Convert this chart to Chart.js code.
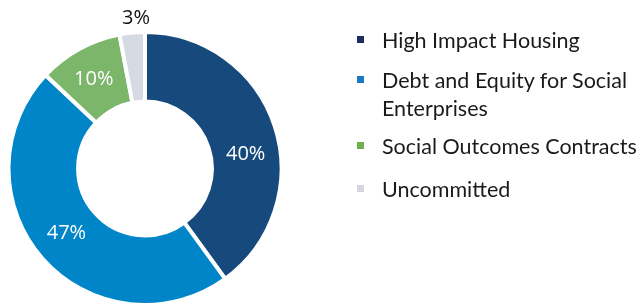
<!DOCTYPE html>
<html>
<head>
<meta charset="utf-8">
<script src="https://cdn.jsdelivr.net/npm/chart.js@4.4.0/dist/chart.umd.min.js"></script>
<style>
  html, body { margin: 0; padding: 0; background: #fff; }
  #box { position: relative; width: 641px; height: 307px; }
  #legend { position: absolute; left: 357px; top: 0; font-family: Lato, "Open Sans", sans-serif; font-size: 21.5px; color: #1a1a1a; }
  .item { position: absolute; left: 0; white-space: nowrap; }
  .item i { position: absolute; left: 0; width: 7px; height: 7px; }
  .item span { position: absolute; left: 25px; line-height: 28px; }
</style>
</head>
<body>
<div id="box">
  <canvas id="donut" width="641" height="307"></canvas>
  <div id="legend"></div>
</div>
<script>
const categories = ["High Impact Housing", "Debt and Equity for Social Enterprises", "Social Outcomes Contracts", "Uncommitted"]
const legendLines = [["High Impact Housing"], ["Debt and Equity for Social", "Enterprises"], ["Social Outcomes Contracts"], ["Uncommitted"]]
const shares = [40, 47, 10, 3]
const sliceColors = ["#174a7c", "#0086c8", "#7cb66a", "#d6dae2"]
const keyColors = ["#1d2c5e", "#1b78c2", "#6cb14e", "#d3d6df"]
const labelColors = ["#fff", "#fff", "#fff", "#111"]

// legend row centres (first line)
const legendRows = [40, 80, 146, 189]

const legend = document.getElementById("legend")
legendLines.forEach((lines, i) => {
  const row = document.createElement("div")
  row.className = "item"
  row.style.top = (legendRows[i] - 14) + "px"
  row.innerHTML = `<i style="background:${keyColors[i]};top:10px"></i><span>${lines.join("<br>")}</span>`
  legend.appendChild(row)
})

// label placement: angle nudge (deg) and radius factor per slice
const labelPlace = [
  { nudge: 10, r: 0.5 },
  { nudge: 2, r: 0.5 },
  { nudge: -1, r: 0.52 },
  { nudge: 2, r: 1.1 },
]

const pctLabels = {
  id: "pctLabels",
  afterDatasetsDraw(chart) {
    const ctx = chart.ctx
    const meta = chart.getDatasetMeta(0)
    ctx.save()
    ctx.font = "20px 'Open Sans', Lato, sans-serif"
    ctx.textAlign = "center"
    ctx.textBaseline = "middle"
    meta.data.forEach((arc, i) => {
      const { x, y, startAngle, endAngle, innerRadius, outerRadius } = arc.getProps(["x", "y", "startAngle", "endAngle", "innerRadius", "outerRadius"], true)
      const p = labelPlace[i]
      const a = (startAngle + endAngle) / 2 + p.nudge * Math.PI / 180
      const r = p.r > 1 ? outerRadius * p.r : innerRadius + (outerRadius - innerRadius) * p.r
      ctx.fillStyle = labelColors[i]
      ctx.fillText(shares[i] + "%", x + Math.cos(a) * r, y + Math.sin(a) * r)
    })
    ctx.restore()
  }
}

new Chart(document.getElementById("donut"), {
  type: "doughnut",
  data: {
    labels: categories,
    datasets: [{
      data: shares,
      backgroundColor: sliceColors,
      borderColor: "#fff",
      borderWidth: 4,
    }]
  },
  options: {
    responsive: false,
    animation: false,
    cutout: "49%",
    layout: { padding: { left: 4, top: 30, right: 355, bottom: -5 } },
    plugins: {
      legend: { display: false },
      tooltip: { enabled: false },
    },
  },
  plugins: [pctLabels],
})
</script>
</body>
</html>
